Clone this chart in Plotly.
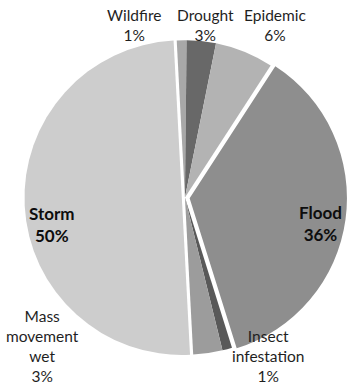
import plotly.graph_objects as go

# Disaster types and their share of events (%)
labels = ["Wildfire", "Drought", "Epidemic", "Flood",
          "Insect infestation", "Mass movement wet", "Storm"]
display_names = ["Wildfire", "Drought", "Epidemic", "Flood",
                 "Insect<br>infestation", "Mass<br>movement<br>wet", "Storm"]
values = [1, 3, 6, 36, 1, 3, 50]

colors = ["#a8a8a8", "#686868", "#b3b3b3", "#8e8e8e",
          "#595959", "#9c9c9c", "#cdcdcd"]
pulls = [0, 0, 0, 0.03, 0, 0, 0.02]

# label anchor points (pixels from top-left) and emphasis
label_pos = [(134, 25), (205, 25), (275, 25), (320, 223),
             (268, 356), (42, 346), (52, 224)]
bold = [False, False, False, True, False, False, True]

W, H = 347, 385

fig = go.Figure(go.Pie(
    labels=labels,
    values=values,
    sort=False,
    direction="clockwise",
    rotation=-3,
    pull=pulls,
    marker=dict(colors=colors, line=dict(width=0)),
    textinfo="none",
    hoverinfo="label+percent",
    showlegend=False,
    domain=dict(x=[0.066, 1.0], y=[0.066, 0.908]),
))

annotations = []
for name, val, (px, py), b in zip(display_names, values, label_pos, bold):
    txt = f"{name}<br>{val}%"
    if b:
        txt = f"<b>{txt}</b>"
    annotations.append(dict(
        x=px / W, y=1 - py / H, xref="paper", yref="paper",
        text=txt, showarrow=False, align="center",
        xanchor="center", yanchor="middle",
        font=dict(family="Lato", size=17 if b else 15.5,
                  color="#0d0d0d" if b else "#1f1f1f"),
    ))

fig.update_layout(
    width=W, height=H,
    margin=dict(l=0, r=0, t=0, b=0),
    paper_bgcolor="white",
    plot_bgcolor="white",
    annotations=annotations,
)

fig.write_html("out.html")
